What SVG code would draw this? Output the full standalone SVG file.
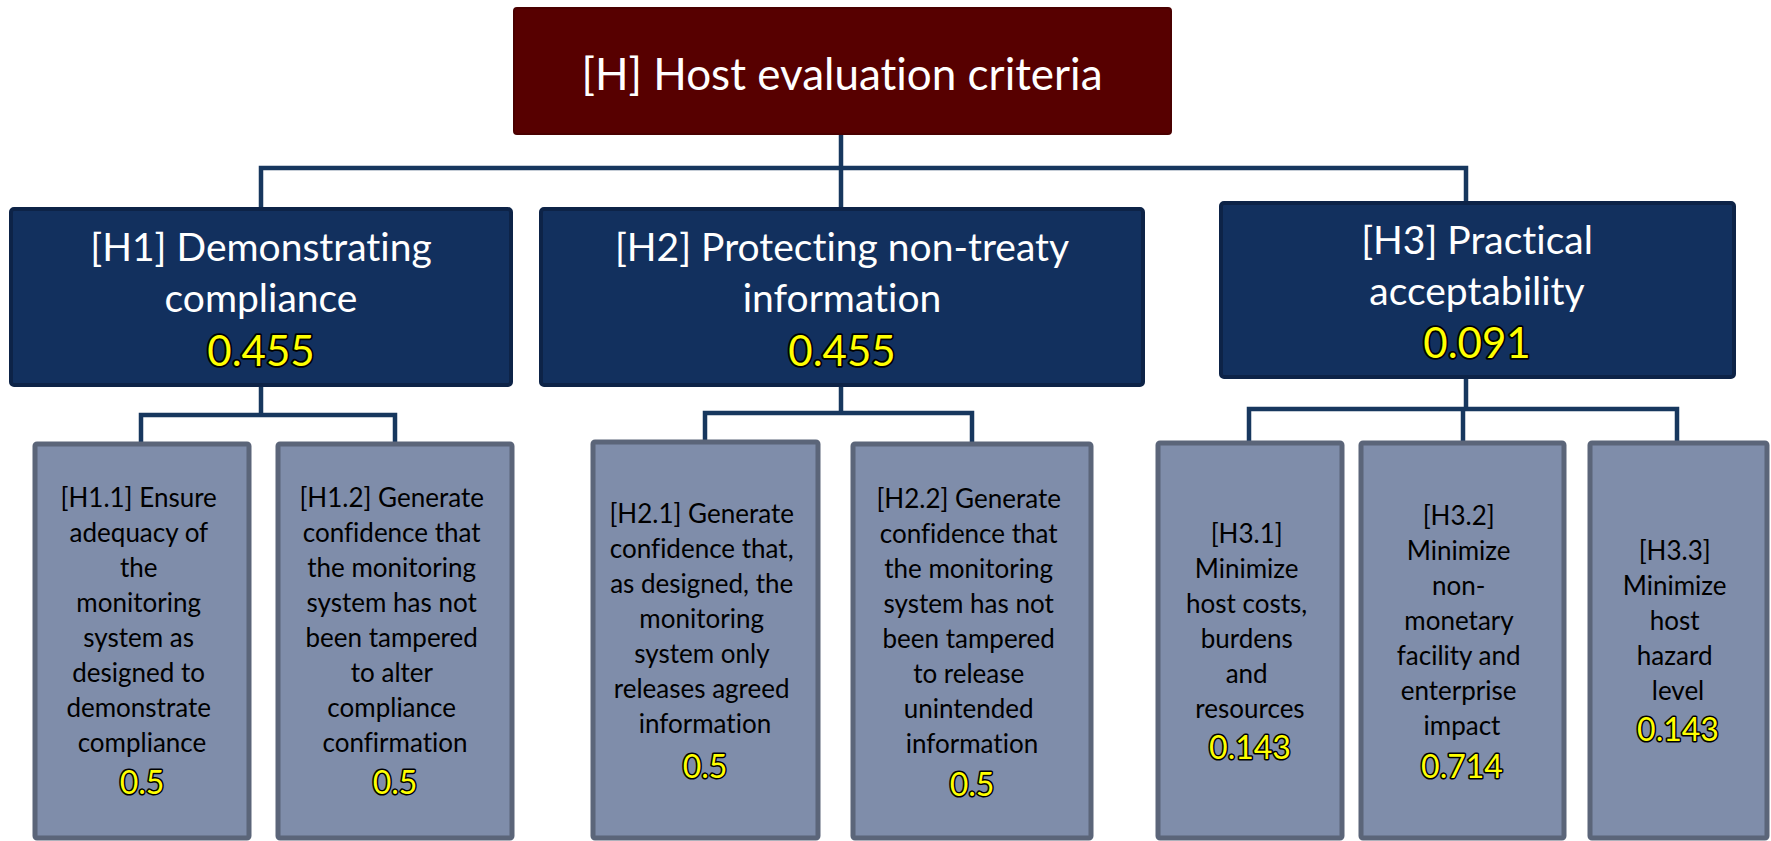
<svg xmlns="http://www.w3.org/2000/svg" width="1771" height="841" viewBox="0 0 1771 841">
  <style>
    .root { fill: #570000; stroke: #4a0000; stroke-width: 2; }
    .main { fill: #12305e; stroke: #0d2347; stroke-width: 4; }
    .sub { fill: #7f8daa; stroke: #5b6579; stroke-width: 5; }
    .link { fill: none; stroke: #17375e; stroke-width: 4.5; }
    text { font-family: Lato, "Open Sans", sans-serif; text-anchor: middle; font-variant-ligatures: none; }
    .t-root { fill: #ffffff; font-size: 44px; }
    .t-main { fill: #ffffff; font-size: 39px; }
    .t-sub { fill: #000000; font-size: 26px; }
    .w-main { fill: #ffff00; stroke: #000000; stroke-width: 3.5; stroke-linejoin: round; paint-order: stroke; font-size: 42px; }
    .w-sub { fill: #ffff00; stroke: #000000; stroke-width: 3; stroke-linejoin: round; paint-order: stroke; font-size: 32px; }
  </style>

  <g id="connectors">
    <path class="link" d="M841 134 V209"/>
    <path class="link" d="M261 209 V168 H1466 V203"/>
    <path class="link" d="M261 385 V415"/>
    <path class="link" d="M141 444 V415 H395 V444"/>
    <path class="link" d="M841 385 V413"/>
    <path class="link" d="M705 442 V413 H972 V444"/>
    <path class="link" d="M1466 377 V409"/>
    <path class="link" d="M1249 443 V409 H1677 V443"/>
    <path class="link" d="M1463 409 V443"/>
  </g>

  <g id="H">
    <rect class="root" x="514" y="8" width="657" height="126" rx="3"/>
    <text class="t-root" x="842" y="90">[H] Host evaluation criteria</text>
  </g>

  <g id="H1">
    <rect class="main" x="11" y="209" width="500" height="176" rx="3"/>
    <text class="t-main" x="261" y="261">[H1] Demonstrating</text>
    <text class="t-main" x="261" y="312">compliance</text>
    <text class="w-main" x="261" y="366">0.455</text>
  </g>

  <g id="H2">
    <rect class="main" x="541" y="209" width="602" height="176" rx="3"/>
    <text class="t-main" x="842" y="261">[H2] Protecting non-treaty</text>
    <text class="t-main" x="842" y="312">information</text>
    <text class="w-main" x="842" y="366">0.455</text>
  </g>

  <g id="H3">
    <rect class="main" x="1221" y="203" width="513" height="174" rx="3"/>
    <text class="t-main" x="1477" y="254">[H3] Practical</text>
    <text class="t-main" x="1477" y="305">acceptability</text>
    <text class="w-main" x="1477" y="358">0.091</text>
  </g>

  <g id="H1.1">
    <rect class="sub" x="35" y="444" width="214" height="394" rx="2"/>
    <text class="t-sub" x="142">
      <tspan x="142" y="507">[H1.1] Ensure</tspan>
      <tspan x="142" y="542">adequacy of</tspan>
      <tspan x="142" y="577">the</tspan>
      <tspan x="142" y="612">monitoring</tspan>
      <tspan x="142" y="647">system as</tspan>
      <tspan x="142" y="682">designed to</tspan>
      <tspan x="142" y="717">demonstrate</tspan>
      <tspan x="142" y="752">compliance</tspan>
    </text>
    <text class="w-sub" x="142" y="794">0.5</text>
  </g>

  <g id="H1.2">
    <rect class="sub" x="278" y="444" width="234" height="394" rx="2"/>
    <text class="t-sub" x="395">
      <tspan x="395" y="507">[H1.2] Generate</tspan>
      <tspan x="395" y="542">confidence that</tspan>
      <tspan x="395" y="577">the monitoring</tspan>
      <tspan x="395" y="612">system has not</tspan>
      <tspan x="395" y="647">been tampered</tspan>
      <tspan x="395" y="682">to alter</tspan>
      <tspan x="395" y="717">compliance</tspan>
      <tspan x="395" y="752">confirmation</tspan>
    </text>
    <text class="w-sub" x="395" y="794">0.5</text>
  </g>

  <g id="H2.1">
    <rect class="sub" x="593" y="442" width="225" height="396" rx="2"/>
    <text class="t-sub" x="705">
      <tspan x="705" y="523">[H2.1] Generate</tspan>
      <tspan x="705" y="558">confidence that,</tspan>
      <tspan x="705" y="593">as designed, the</tspan>
      <tspan x="705" y="628">monitoring</tspan>
      <tspan x="705" y="663">system only</tspan>
      <tspan x="705" y="698">releases agreed</tspan>
      <tspan x="705" y="733">information</tspan>
    </text>
    <text class="w-sub" x="705" y="778">0.5</text>
  </g>

  <g id="H2.2">
    <rect class="sub" x="853" y="444" width="238" height="394" rx="2"/>
    <text class="t-sub" x="972">
      <tspan x="972" y="508">[H2.2] Generate</tspan>
      <tspan x="972" y="543">confidence that</tspan>
      <tspan x="972" y="578">the monitoring</tspan>
      <tspan x="972" y="613">system has not</tspan>
      <tspan x="972" y="648">been tampered</tspan>
      <tspan x="972" y="683">to release</tspan>
      <tspan x="972" y="718">unintended</tspan>
      <tspan x="972" y="753">information</tspan>
    </text>
    <text class="w-sub" x="972" y="796">0.5</text>
  </g>

  <g id="H3.1">
    <rect class="sub" x="1158" y="443" width="184" height="395" rx="2"/>
    <text class="t-sub" x="1250">
      <tspan x="1250" y="543">[H3.1]</tspan>
      <tspan x="1250" y="578">Minimize</tspan>
      <tspan x="1250" y="613">host costs,</tspan>
      <tspan x="1250" y="648">burdens</tspan>
      <tspan x="1250" y="683">and</tspan>
      <tspan x="1250" y="718">resources</tspan>
    </text>
    <text class="w-sub" x="1250" y="759">0.143</text>
  </g>

  <g id="H3.2">
    <rect class="sub" x="1361" y="443" width="203" height="395" rx="2"/>
    <text class="t-sub" x="1462">
      <tspan x="1462" y="525">[H3.2]</tspan>
      <tspan x="1462" y="560">Minimize</tspan>
      <tspan x="1462" y="595">non-</tspan>
      <tspan x="1462" y="630">monetary</tspan>
      <tspan x="1462" y="665">facility and</tspan>
      <tspan x="1462" y="700">enterprise</tspan>
      <tspan x="1462" y="735">impact</tspan>
    </text>
    <text class="w-sub" x="1462" y="778">0.714</text>
  </g>

  <g id="H3.3">
    <rect class="sub" x="1590" y="443" width="177" height="395" rx="2"/>
    <text class="t-sub" x="1678">
      <tspan x="1678" y="560">[H3.3]</tspan>
      <tspan x="1678" y="595">Minimize</tspan>
      <tspan x="1678" y="630">host</tspan>
      <tspan x="1678" y="665">hazard</tspan>
      <tspan x="1678" y="700">level</tspan>
    </text>
    <text class="w-sub" x="1678" y="741">0.143</text>
  </g>
</svg>
